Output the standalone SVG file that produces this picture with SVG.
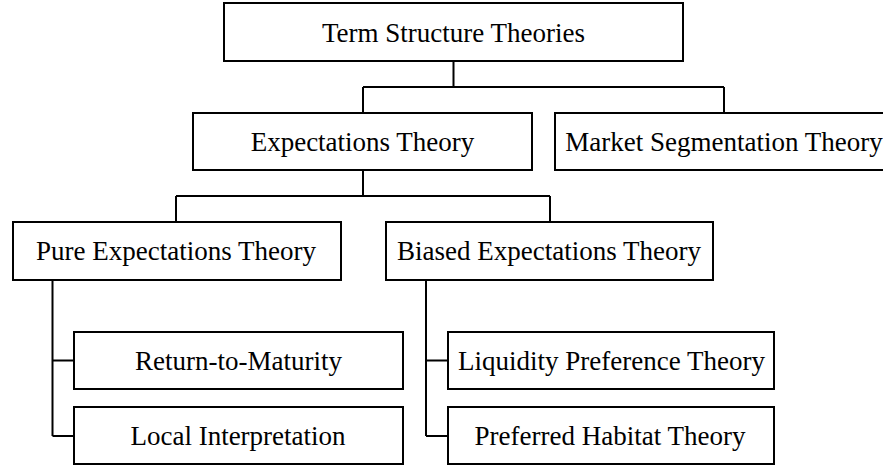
<svg xmlns="http://www.w3.org/2000/svg" width="883" height="465" viewBox="0 0 883 465">
<style>
  .box { fill: #fff; stroke: #000; stroke-width: 2; }
  .lbl { font-family: "Liberation Serif", "Times New Roman", serif; font-size: 27px; fill: #000; text-anchor: middle; }
  .conn { fill: none; stroke: #000; stroke-width: 2; }
</style>
<rect x="0" y="0" width="883" height="465" fill="#fff"/>
<g id="connectors" class="conn">
  <path d="M453.5,61 V87 M363,87 H724 M363,87 V113 M724,87 V113"/>
  <path d="M363,170 V196 M176,196 H550 M176,196 V222 M550,196 V222"/>
  <path d="M52.5,280 V436 M52.5,360.5 H74 M52.5,436 H74"/>
  <path d="M426,280 V436 M426,360.5 H448 M426,436 H448"/>
</g>
<g id="term-structure">
  <rect class="box" x="224" y="3" width="459" height="58"/>
  <text class="lbl" x="453.5" y="41.5">Term Structure Theories</text>
</g>
<g id="expectations">
  <rect class="box" x="193" y="113" width="339" height="57"/>
  <text class="lbl" x="362.5" y="150.5">Expectations Theory</text>
</g>
<g id="market-segmentation">
  <rect class="box" x="555" y="113" width="345" height="57"/>
  <text class="lbl" x="724" y="150.5">Market Segmentation Theory</text>
</g>
<g id="pure-expectations">
  <rect class="box" x="13" y="222" width="328" height="58"/>
  <text class="lbl" x="176" y="260">Pure Expectations Theory</text>
</g>
<g id="biased-expectations">
  <rect class="box" x="386" y="222" width="327" height="58"/>
  <text class="lbl" x="549" y="260">Biased Expectations Theory</text>
</g>
<g id="return-to-maturity">
  <rect class="box" x="74" y="332" width="329" height="57"/>
  <text class="lbl" x="238.5" y="369.5">Return-to-Maturity</text>
</g>
<g id="local-interpretation">
  <rect class="box" x="74" y="407" width="329" height="57"/>
  <text class="lbl" x="238" y="444.5">Local Interpretation</text>
</g>
<g id="liquidity-preference">
  <rect class="box" x="448" y="332" width="326" height="57"/>
  <text class="lbl" x="611.5" y="369.5">Liquidity Preference Theory</text>
</g>
<g id="preferred-habitat">
  <rect class="box" x="448" y="407" width="326" height="57"/>
  <text class="lbl" x="610" y="444.5">Preferred Habitat Theory</text>
</g>
</svg>
